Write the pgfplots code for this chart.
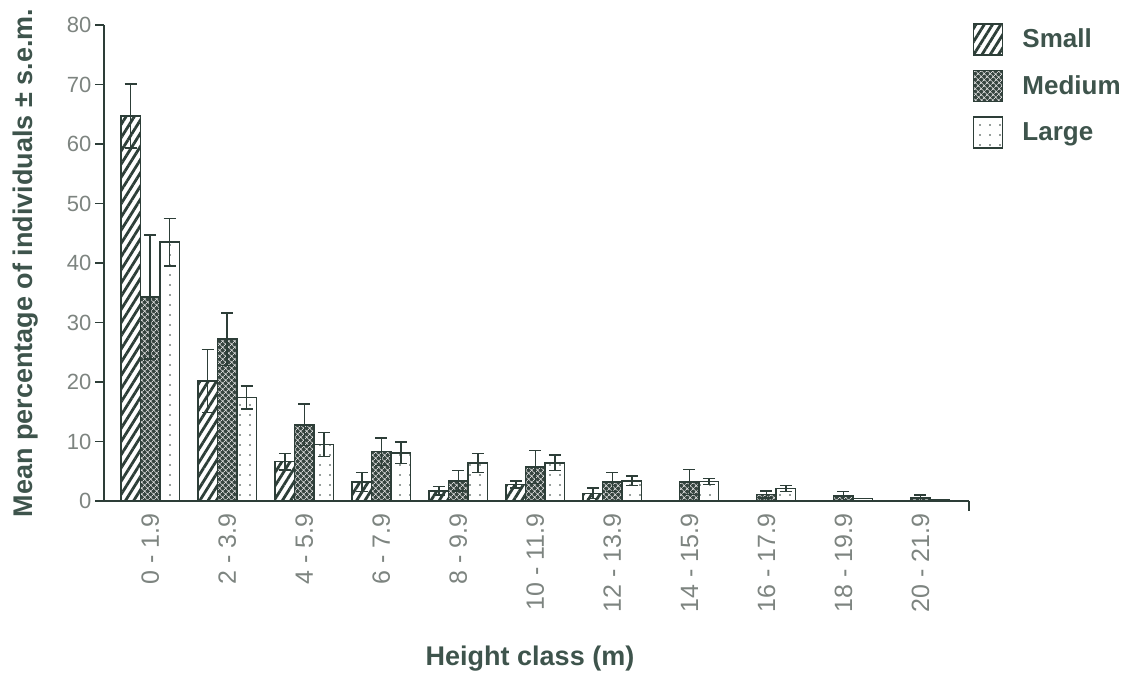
\documentclass[border=0pt]{standalone}
\usepackage{fontspec}
\setmainfont{Liberation Sans}
\usepackage{pgfplots}
\pgfplotsset{compat=1.18}
\usetikzlibrary{patterns,patterns.meta}
\definecolor{lc}{RGB}{45,62,56}
\definecolor{tc}{RGB}{62,84,76}
\definecolor{tk}{RGB}{125,132,128}
\definecolor{md}{RGB}{55,69,64}
\pgfplotsset{
  mylegend/.style={legend image code/.code={\draw[##1] (0pt,-16pt) rectangle (29pt,15pt);}},
}
\begin{document}
\begin{tikzpicture}
\useasboundingbox (0pt,0pt) rectangle (1126pt,675pt);
\begin{axis}[
  at={(104pt,174pt)}, anchor=south west,
  scale only axis, width=865pt, height=476pt,
  xmin=-0.6, xmax=10.63, ymin=0, ymax=80,
  axis x line*=bottom, axis y line*=left,
  axis line style={lc, line width=1.5pt},
  ytick={0,10,...,80}, tick align=outside, major tick length=9pt,
  tick style={lc, line width=1.5pt},
  xtick={0,...,10},
  xticklabels={0 - 1.9, 2 - 3.9, 4 - 5.9, 6 - 7.9, 8 - 9.9, 10 - 11.9, 12 - 13.9, 14 - 15.9, 16 - 17.9, 18 - 19.9, 20 - 21.9},
  xtick style={draw=none},
  /pgf/number format/assume math mode=true,
  yticklabel style={font=\fontsize{22}{22}\selectfont, text=tk},
  xticklabel style={font=\fontsize{25}{25}\selectfont, text=tk, rotate=90, anchor=east, yshift=0pt},
  xlabel={Height class (m)},
  xlabel style={at={(axis description cs:0.4925,-0.345)}, anchor=base, font=\bfseries\fontsize{27}{27}\selectfont, text=tc},
  ylabel={Mean percentage of individuals ± s.e.m.},
  ylabel style={at={(axis description cs:-0.0832,0.5)}, anchor=base, font=\bfseries\fontsize{27}{27}\selectfont, text=tc},
  ybar=0pt, bar width=19.5pt,
  clip=false,
  legend style={at={(1.0046,1.0035)}, anchor=north west, draw=none, fill=none, inner sep=0pt, outer sep=0pt,
    row sep=14pt, column sep=19pt, font=\bfseries\fontsize{26}{26}\selectfont, text=tc, nodes={inner sep=0pt}},
  legend cell align=left,
  error bars/y dir=both, error bars/y explicit,
  error bars/error bar style={lc, line width=1.5pt},
  error bars/error mark options={lc, rotate=90, mark size=6pt, line width=1.5pt},
  after end axis/.code={\draw[lc, line width=1.5pt] (rel axis cs:1,0) -- ++(0pt,-10pt);},
]
\addplot[mylegend, draw=lc, line width=1.5pt, fill=white,
  postaction={pattern={Lines[angle=58,distance=7pt,line width=2.8pt]}, pattern color=lc}]
  coordinates {(0,64.7) +- (0,5.4) (1,20.2) +- (0,5.3) (2,6.6) +- (0,1.4) (3,3.2) +- (0,1.6)
               (4,1.7) +- (0,0.7) (5,2.8) +- (0,0.6) (6,1.3) +- (0,0.9)};
\addplot[mylegend, draw=lc, line width=1.5pt, fill=md,
  postaction={pattern={Hatch[angle=45,distance=4pt,line width=0.7pt]}, pattern color=white!70!gray}]
  coordinates {(0,34.3) +- (0,10.4) (1,27.2) +- (0,4.4) (2,12.8) +- (0,3.5) (3,8.3) +- (0,2.3)
               (4,3.4) +- (0,1.7) (5,5.7) +- (0,2.8) (6,3.2) +- (0,1.6) (7,3.2) +- (0,2.1)
               (8,1.1) +- (0,0.6) (9,0.8) +- (0,0.8) (10,0.5) +- (0,0.5)};
\addplot[mylegend, draw=lc, line width=1.5pt, fill=white,
  postaction={pattern={Dots[distance=10pt,radius=0.8pt]}, pattern color=lc}]
  coordinates {(0,43.5) +- (0,4.0) (1,17.4) +- (0,1.9) (2,9.5) +- (0,2.0) (3,8.1) +- (0,1.8)
               (4,6.4) +- (0,1.6) (5,6.4) +- (0,1.3) (6,3.4) +- (0,0.8) (7,3.3) +- (0,0.5)
               (8,2.1) +- (0,0.5) (9,0.45) +- (0,0) (10,0.2) +- (0,0)};
\legend{Small, Medium, Large}
\end{axis}
\end{tikzpicture}
\end{document}
